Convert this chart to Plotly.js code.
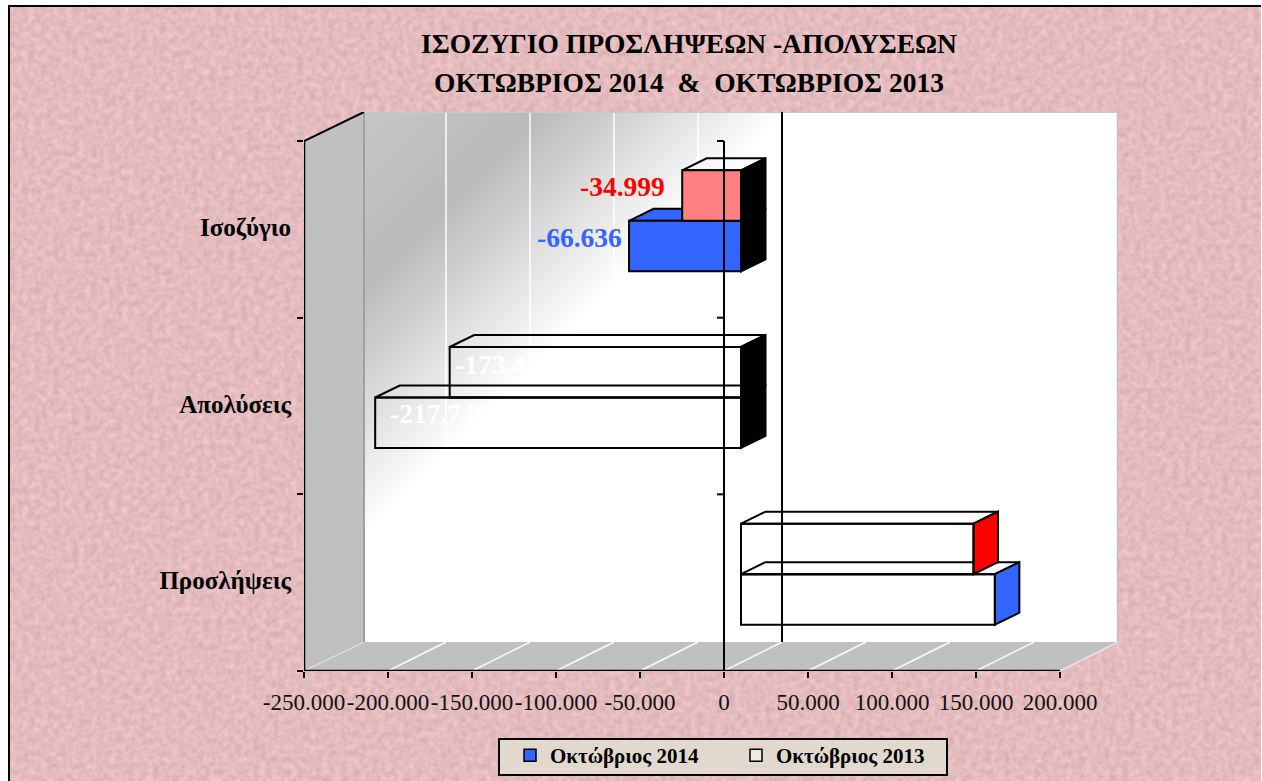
<!DOCTYPE html>
<html lang="el">
<head>
<meta charset="utf-8">
<script src="https://cdn.plot.ly/plotly-3.0.1.min.js"></script>
<style>
html,body{margin:0;padding:0;background:#fff;width:1262px;height:781px;overflow:hidden}
#frame{position:absolute;left:8px;top:5px;width:1253px;height:776px;box-sizing:border-box;border-top:2.5px solid #000;border-left:2.5px solid #000;background-color:#E4BBBE;overflow:hidden}
#frame svg{position:absolute;left:0;top:0}
#wall{position:absolute;left:364px;top:112px;width:754px;height:530px;background:linear-gradient(135deg,#C6C6C6 0,#BABABA 124px,#FFFFFF 301px)}
#chart{position:absolute;left:0;top:0;width:1262px;height:781px}
</style>
</head>
<body>
<div id="frame"><svg width="1253" height="776" xmlns="http://www.w3.org/2000/svg"><filter id="n" x="0" y="0" width="100%" height="100%" color-interpolation-filters="sRGB"><feTurbulence type="fractalNoise" baseFrequency="0.16" numOctaves="3" seed="4"/><feColorMatrix values="0.14 0 0 0 0.825  0.16 0 0 0 0.655  0.16 0 0 0 0.665  0 0 0 0 1"/></filter><rect width="1253" height="776" filter="url(#n)"/></svg></div>
<div id="wall"></div>
<div id="chart"></div>
<script>
// ---- data ----
const categories = ["Ισοζύγιο", "Απολύσεις", "Προσλήψεις"];
const oct2014 = [-66636, -217746, 151110];
const oct2013 = [-34999, -173405, 138406];
const seriesNames = ["Οκτώβριος 2014", "Οκτώβριος 2013"];
const xTicks = [-250000, -200000, -150000, -100000, -50000, 0, 50000, 100000, 150000, 200000];
const xTickLabels = ["-250.000", "-200.000", "-150.000", "-100.000", "-50.000", "0", "50.000", "100.000", "150.000", "200.000"];

// ---- styles ----
const BLUE = "#3366FF", PINK = "#FF8080", RED = "#FF0000", NONE = "rgba(0,0,0,0)";
const SERIF = "'Liberation Serif', serif";

// ---- projection of the fake 3-D box (pixels turned into axis units) ----
const plotL = 304, plotR = 1118, plotT = 112, plotB = 671;
const unitX = 756 / 450000, unitY = 176.67;      // px per value, px per band
const xMin = -250000, xMax = xMin + (plotR - plotL) / unitX;
const yMax = (plotB - plotT) / unitY;
const wallDX = 58 / unitX, wallDY = 29 / unitY;     // depth of the box
const wallLeft = xMin + 60 / unitX;
const barBase = 17 / unitX, barLift = 8.5 / unitY; // bars float inside the box
const barDX = 24.5 / unitX, barDY = 12 / unitY;      // depth of a bar
const barH = 50.5 / unitY;

const nCat = categories.length;
const centers = categories.map((c, i) => nCat - 1 - i + 0.5 + barLift);
const pos2014 = centers.map(c => c - barH / 2);
const pos2013 = centers.map(c => c + barH / 2);

const traces = [];
function face(xs, ys, fill, z) {
  traces.push({type: "scatter", mode: "lines", x: xs, y: ys, fill: "toself", fillcolor: fill,
    line: {color: "#000", width: 2}, hoverinfo: "skip", showlegend: false, zorder: z});
}
function prism(values, pos, topFill, sideFill, z) {
  values.forEach((v, i) => {
    const left = barBase + Math.min(v, 0), right = barBase + Math.max(v, 0), yTop = pos[i] + barH / 2, yBot = pos[i] - barH / 2;
    face([left, left + barDX, right + barDX, right, left], [yTop, yTop + barDY, yTop + barDY, yTop, yTop], topFill[i], z);
    face([right, right + barDX, right + barDX, right, right], [yTop, yTop + barDY, yBot + barDY, yBot, yTop], sideFill[i], z);
  });
}
function frontBars(values, pos, colors, name, z) {
  traces.push({type: "bar", orientation: "h", x: values, y: pos, base: values.map(() => barBase), width: barH,
    marker: {color: colors, line: {color: "#000", width: 2}}, name: name, showlegend: false, hoverinfo: "x", zorder: z});
}
prism(oct2014, pos2014, [BLUE, NONE, NONE], ["#000", "#000", BLUE], 1);
frontBars(oct2014, pos2014, [BLUE, NONE, NONE], seriesNames[0], 2);
prism(oct2013, pos2013, [NONE, NONE, NONE], ["#000", "#000", RED], 3);
frontBars(oct2013, pos2013, [PINK, NONE, NONE], seriesNames[1], 4);

// vertical lines that run over the bars: the value axis crossing and its echo on the back wall
traces.push({type: "scatter", mode: "lines", x: [0, 0], y: [0, nCat], line: {color: "#000", width: 2}, hoverinfo: "skip", showlegend: false, zorder: 6});
traces.push({type: "scatter", mode: "lines", x: [wallDX, wallDX], y: [wallDY, yMax], line: {color: "#000", width: 2}, hoverinfo: "skip", showlegend: false, zorder: 6});

// legend entries
[BLUE, "#EEE9E2"].forEach((c, i) => traces.push({type: "bar", orientation: "h", x: [null], y: [null], name: seriesNames[i],
  marker: {color: c, line: {color: "#000", width: 1.5}}, showlegend: true}));

// ---- box walls, grid and axis lines ----
const GRAY = "#C0C0C0";
const shapes = [];
const poly = (pts, fill, line) => shapes.push({type: "path", layer: "below", xref: "x", yref: "y",
  path: "M" + pts.map(p => p[0] + "," + p[1]).join("L") + "Z", fillcolor: fill, line: line || {width: 0}});
const seg = (x0, y0, x1, y1, color, width, layer) => shapes.push({type: "line", layer: layer || "below", xref: "x", yref: "y", x0, y0, x1, y1, line: {color, width}});
poly([[xMin, 0], [wallLeft, wallDY], [wallLeft, yMax], [xMin, nCat]], GRAY);
poly([[xMin, 0], [200000, 0], [200000 + wallDX, wallDY], [wallLeft, wallDY]], GRAY);
xTicks.slice(1, -1).forEach(t => {
  seg(t, 0, t + wallDX, wallDY, "#FFF", 1.5);
  seg(t + wallDX, wallDY, t + wallDX, yMax, "#FFF", 1.5);
});
seg(wallLeft, wallDY, wallLeft, yMax, "#A0A0A0", 2);
seg(wallLeft, yMax, 200000 + wallDX, yMax, "#C8C8C8", 2);
seg(200000 + wallDX, wallDY, 200000 + wallDX, yMax, GRAY, 2.5);
seg(wallLeft, wallDY, xMin, 0, "#E8E8E8", 1);
seg(200000 + wallDX, wallDY, 200000, 0, "#E8E8E8", 1.5);
seg(xMin, 0, xMin, nCat, "#000", 2.5, "above");
seg(xMin, nCat, wallLeft, yMax, "#000", 2, "above");
seg(xMin, 0, 200000, 0, "#000", 2.5, "above");
[1, 2, 3].forEach(k => shapes.push({type: "line", layer: "above", xref: "x", yref: "y", x0: -7 / unitX, x1: 0, y0: k, y1: k, line: {color: "#000", width: 2}}));
// legend box
const paperX = px => (px - plotL) / (plotR - plotL), paperY = py => (plotB - py) / (plotB - plotT);
shapes.push({type: "rect", layer: "below", xref: "paper", yref: "paper", x0: paperX(499), x1: paperX(947), y0: paperY(775), y1: paperY(739),
  fillcolor: "#E1D9CE", line: {color: "#000", width: 2}});

// ---- value labels ----
const labelText = v => "-" + Math.abs(v).toLocaleString("de-DE");
const labelFont = (color) => ({family: SERIF, size: 27.5, color: color, weight: 700});
const annotations = [
  {x: barBase + oct2013[0], y: pos2013[0], text: labelText(oct2013[0]), font: labelFont(RED), xanchor: "right", xshift: -15, yshift: 9},
  {x: barBase + oct2014[0], y: pos2014[0], text: labelText(oct2014[0]), font: labelFont(BLUE), xanchor: "right", xshift: -5, yshift: 9},
  {x: barBase + oct2013[1], y: pos2013[1], text: labelText(oct2013[1]), font: labelFont("#FFF"), xanchor: "left", xshift: 3, yshift: 8},
  {x: barBase + oct2014[1], y: pos2014[1], text: labelText(oct2014[1]), font: labelFont("#FFF"), xanchor: "left", xshift: 13, yshift: 9}
].map(a => Object.assign({xref: "x", yref: "y", showarrow: false, yanchor: "middle"}, a));

const layout = {
  width: 1262, height: 781, autosize: false,
  margin: {l: plotL, r: 1262 - plotR, t: plotT, b: 781 - plotB, pad: 0},
  paper_bgcolor: NONE, plot_bgcolor: NONE,
  barmode: "overlay",
  title: {
    text: "<span style='font-size:27.5px'>ΙΣΟΖΥΓΙΟ ΠΡΟΣΛΗΨΕΩΝ -ΑΠΟΛΥΣΕΩΝ</span><br><span style='font-size:27.5px'>ΟΚΤΩΒΡΙΟΣ 2014  &amp;  ΟΚΤΩΒΡΙΟΣ 2013</span>",
    font: {family: SERIF, size: 30, color: "#000", weight: 700},
    x: 689 / 1262, xref: "container", xanchor: "center",
    y: 1 - 53 / 781, yref: "container", yanchor: "top"
  },
  xaxis: {
    type: "linear", range: [xMin, xMax], tickmode: "array", tickvals: xTicks, ticktext: xTickLabels,
    ticks: "outside", ticklen: 6, tickwidth: 2, tickcolor: "#000", showgrid: false, zeroline: false, showline: false,
    tickfont: {family: SERIF, size: 23, color: "#111"}, tickangle: 0, ticklabelstandoff: 4, fixedrange: true
  },
  yaxis: {
    type: "linear", range: [0, yMax], tickmode: "array", tickvals: categories.map((c, i) => nCat - 1 - i + 0.5), ticktext: categories,
    ticks: "", showgrid: false, zeroline: false, showline: false, ticklabelstandoff: 12, ticklabelshift: -2,
    minor: {ticks: "outside", ticklen: 6, tickwidth: 2, tickcolor: "#000", tickvals: [0, 1, 2, 3], showgrid: false},
    tickfont: {family: SERIF, size: 25, color: "#000", weight: 700}, fixedrange: true
  },
  shapes, annotations,
  showlegend: true,
  legend: {
    orientation: "h", xref: "container", yref: "container", x: 510 / 1262, y: 1 - 735 / 781, xanchor: "left", yanchor: "top",
    bgcolor: NONE, borderwidth: 0, entrywidth: 181, entrywidthmode: "pixels",
    font: {family: SERIF, size: 21, color: "#000", weight: 700}, traceorder: "normal", itemclick: false, itemdoubleclick: false
  }
};
Plotly.newPlot("chart", traces, layout, {displayModeBar: false, staticPlot: true});
</script>
</body>
</html>
